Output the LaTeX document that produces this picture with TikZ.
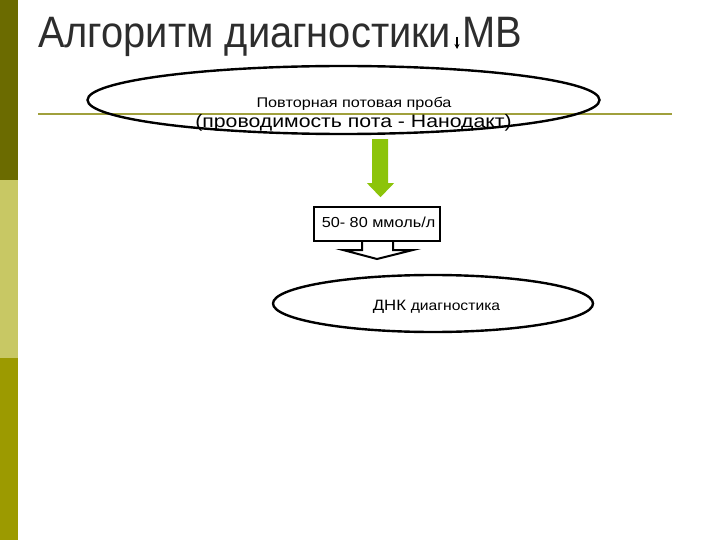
\documentclass[tikz,border=0pt]{standalone}
\usepackage{fontspec}
\setmainfont{Liberation Sans}
\usetikzlibrary{shapes.geometric,calc,arrows.meta}
\definecolor{bardark}{RGB}{107,107,0}
\definecolor{barlight}{RGB}{200,200,100}
\definecolor{barolive}{RGB}{156,154,0}
\definecolor{rulecol}{RGB}{160,160,60}
\definecolor{arrowgreen}{RGB}{140,196,10}
\definecolor{titlegray}{RGB}{45,45,45}
\tikzset{
  oval/.style={draw=black, line width=2.4pt, ellipse, inner sep=0pt},
  calloutbox/.style={draw=black, line width=2pt, fill=white, rectangle, inner sep=0pt, minimum width=126pt, minimum height=34pt},
  lbl/.style={inner sep=0pt, outer sep=0pt, text=black}
}
\begin{document}
\begin{tikzpicture}[x=1pt,y=-1pt]
\useasboundingbox (0,0) rectangle (720,540);
% left bar
\fill[bardark] (0,0) rectangle (18,180);
\fill[barlight] (0,180) rectangle (18,358);
\fill[barolive] (0,358) rectangle (18,540);
% title
\node[anchor=base west, inner sep=0pt, text=titlegray, font=\fontsize{44}{48}\selectfont] (title) at (38,47.5) {\scalebox{0.905}[1]{Алгоритм диагностики МВ}};
\coordinate (ta) at (457,37);
\coordinate (tb) at (457,49);
\draw[line width=1.2pt, -{Stealth[length=5pt,width=5pt]}] (ta) -- (tb);
% horizontal rule
\coordinate (r1) at (38,114);
\coordinate (r2) at (672,114);
\draw[rulecol, line width=2pt] (r1) -- (r2);
% first ellipse
\node[oval, minimum width=512pt, minimum height=68pt] (e1) at (343.5,100) {};
\node[lbl, font=\fontsize{14}{15}\selectfont, anchor=base] (t1) at (354,108) {\scalebox{1.16}[1]{Повторная потовая проба}};
\node[lbl, font=\fontsize{18}{21}\selectfont, anchor=base] (t2) at (353.5,128) {\scalebox{1.18}[1]{(проводимость пота - Нанодакт)}};
% callout box
\node[calloutbox] (box) at (377,224) {};
\node[lbl, font=\fontsize{14.5}{16}\selectfont, anchor=base] (t3) at (378.5,227) {\scalebox{1.12}[1]{50- 80 ммоль/л}};
% green arrow
\fill[arrowgreen]
  ($(e1.south)+(28.5,4)$) -- ($(e1.south)+(44.5,4)$) -- ($(e1.south)+(44.5,48)$) --
  ($(e1.south)+(50.5,48)$) -- ($(e1.south)+(37,62)$) -- ($(e1.south)+(23.5,48)$) --
  ($(e1.south)+(28.5,48)$) -- cycle;
% callout arrow part
\draw[line width=2pt, line join=miter, fill=white]
  ($(box.south)+(-15,0)$) -- ($(box.south)+(-15,8)$) -- ($(box.south)+(-34,8)$) --
  ($(box.south)+(0,17)$) -- ($(box.south)+(36,8)$) -- ($(box.south)+(16,8)$) --
  ($(box.south)+(16,0)$);
% second ellipse
\node[oval, minimum width=320pt, minimum height=57pt] (e2) at (433,303.5) {};
\node[lbl, anchor=base] (t4) at (436.5,310) {\scalebox{1.12}[1]{\fontsize{15}{17}\selectfont ДНК \fontsize{14}{16}\selectfont диагностика}};
\end{tikzpicture}
\end{document}
